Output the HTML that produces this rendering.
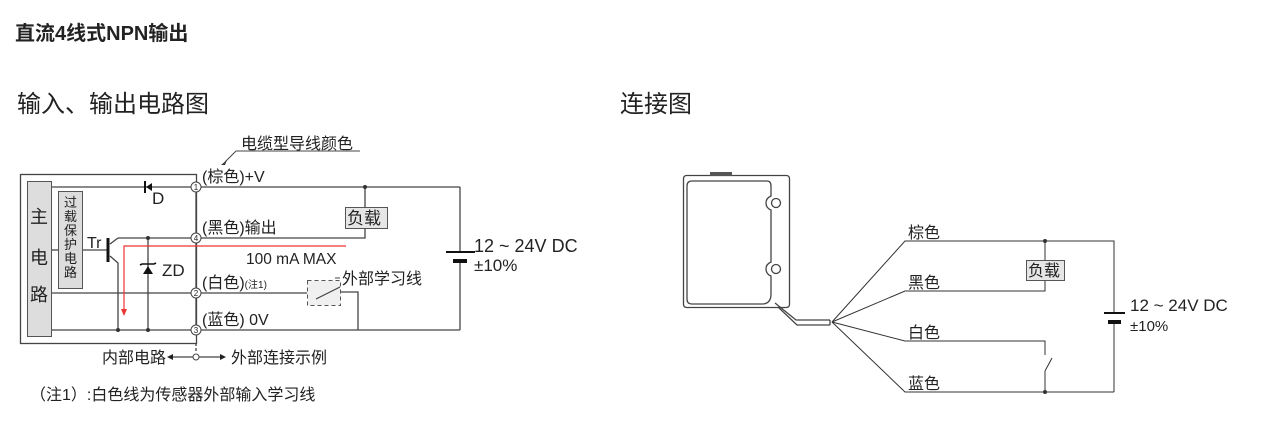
<!DOCTYPE html>
<html><head><meta charset="utf-8"><style>
html,body{margin:0;padding:0;background:#fff;width:1274px;height:440px;overflow:hidden}
svg text{font-family:"Liberation Sans","Noto Sans CJK SC",sans-serif;fill:#222}
</style></head><body>
<svg width="1274" height="440" viewBox="0 0 1274 440" xmlns="http://www.w3.org/2000/svg">
<text x="15" y="40" font-size="20" font-weight="bold" fill="#111">直流4线式NPN输出</text>
<text x="17" y="112" font-size="24">输入、输出电路图</text>
<text x="620" y="112" font-size="24">连接图</text>

<g stroke="#444" stroke-width="1.3" fill="none">
<rect x="20.5" y="174.5" width="176" height="169"/>
<line x1="51" y1="187" x2="191" y2="187"/>
<line x1="201" y1="187" x2="460" y2="187"/>
<line x1="365" y1="187" x2="365" y2="207"/>
<polyline points="365,228 365,238 201,238"/>
<line x1="118" y1="238" x2="191" y2="238"/>
<line x1="51" y1="293" x2="191" y2="293"/>
<line x1="201" y1="293" x2="307" y2="293"/>
<polyline points="340,292 358,292 358,330"/>
<line x1="51" y1="330" x2="191" y2="330"/>
<line x1="201" y1="330" x2="460" y2="330"/>
<line x1="460" y1="187" x2="460" y2="251"/>
<line x1="460" y1="262" x2="460" y2="330"/>
<line x1="196" y1="192" x2="196" y2="233"/>
<line x1="196" y1="243" x2="196" y2="288"/>
<line x1="196" y1="298" x2="196" y2="325"/>
<line x1="51" y1="250" x2="58" y2="250"/>
<line x1="82" y1="250" x2="108" y2="250"/>
<line x1="118" y1="238" x2="110" y2="244"/>
<polyline points="110,256 118,263 118,330"/>
<line x1="148" y1="238" x2="148" y2="330"/>
<line x1="196" y1="343" x2="196" y2="353" stroke-dasharray="3,2"/>
<line x1="172" y1="357" x2="193" y2="357"/>
<line x1="199" y1="357" x2="222" y2="357"/>
<line x1="236" y1="151" x2="360" y2="151" stroke-width="1"/>
<line x1="236" y1="151" x2="225" y2="162" stroke-width="1"/>
<line x1="340" y1="278" x2="335" y2="278" stroke-width="1"/>
</g>
<circle cx="196" cy="357" r="3" fill="#fff" stroke="#444"/>
<path d="M225,165 l-4,0 l6,-5 z" fill="#333"/>
<line x1="108" y1="238" x2="108" y2="262" stroke="#111" stroke-width="3"/>
<line x1="145" y1="181" x2="145" y2="193" stroke="#111" stroke-width="2"/>
<path d="M146,187 L152,183 L152,191 Z" fill="#111"/>
<path d="M143,274 L153,274 L148,266 Z" fill="#111"/>
<path d="M140,265 L142,264 L154,264 L156,263" stroke="#111" stroke-width="1.6" fill="none"/>
<rect x="27.5" y="181.5" width="24" height="155" fill="#ddd" stroke="#555"/>
<rect x="58.5" y="191.5" width="24" height="97" fill="#ddd" stroke="#555"/>
<rect x="345.5" y="207.5" width="42" height="21" fill="#e6e6e6" stroke="#555"/>
<rect x="307.5" y="280.5" width="33" height="25" fill="#f0f0f0" stroke="#555" stroke-dasharray="4,3"/>
<line x1="316" y1="299" x2="340" y2="287" stroke="#444" stroke-width="1.2"/>
<g stroke="#444" fill="#fff" stroke-width="1">
<circle cx="196" cy="187" r="5"/><circle cx="196" cy="238" r="5"/><circle cx="196" cy="293" r="5"/><circle cx="196" cy="330" r="5"/>
</g>
<g font-size="8" text-anchor="middle"><text x="196" y="190">1</text><text x="196" y="241">4</text><text x="196" y="296">2</text><text x="196" y="333">3</text></g>
<g fill="#333"><circle cx="365" cy="187" r="2"/><circle cx="148" cy="238" r="2"/><circle cx="118" cy="330" r="2"/><circle cx="148" cy="330" r="2"/></g>
<polyline points="124,311 124,246 346,246" stroke="#e33" stroke-width="1.2" fill="none"/>
<path d="M121,309 L127,309 L124,316 Z" fill="#e33"/>
<path d="M167,357 L173,354 L173,360 Z M226,357 L220,354 L220,360 Z" fill="#222"/>
<line x1="446" y1="252" x2="475" y2="252" stroke="#111" stroke-width="2"/>
<rect x="453" y="259" width="14" height="4" fill="#111"/>
<g font-size="18">
<text x="30" y="223">主</text><text x="30" y="264">电</text><text x="30" y="301">路</text>
</g>
<g font-size="13"><text x="64" y="207">过</text><text x="64" y="221">载</text><text x="64" y="235">保</text><text x="64" y="249">护</text><text x="64" y="263">电</text><text x="64" y="277">路</text></g>
<g font-size="16">
<text x="241" y="149">电缆型导线颜色</text>
<text x="202" y="182">(棕色)+V</text>
<text x="202" y="233">(黑色)输出</text>
<text x="202" y="288">(白色)<tspan font-size="10">(注1)</tspan></text>
<text x="202" y="325">(蓝色) 0V</text>
<text x="347" y="224" font-size="17">负载</text>
<text x="342" y="284">外部学习线</text>
<text x="87" y="248">Tr</text>
<text x="152" y="204" font-size="17">D</text>
<text x="162" y="276" font-size="17">ZD</text>
<text x="246" y="264" font-size="15.5">100 mA MAX</text>
<text x="474" y="252" font-size="18">12 ~ 24V DC</text>
<text x="474" y="271" font-size="17">±10%</text>
<text x="102" y="363">内部电路</text>
<text x="231" y="363">外部连接示例</text>
<text x="30" y="400" font-size="16" fill="#444">（注1）:白色线为传感器外部输入学习线</text>
</g>

<g stroke="#444" fill="none" stroke-width="1.3">
<rect x="683.5" y="175.5" width="106" height="132" rx="3"/>
<path d="M692,181 H767 Q771,181 771,186 V196 Q766,198 766,203 Q766,208 771,210 V262 Q766,264 766,269 Q766,274 771,276 V294 Q771,304 762,304 H692 Q687,304 687,299 V186 Q687,181 692,181 Z"/>
<path d="M775,303 L796,320 L830,320 M778,307 L797,325 L830,325"/>
<line x1="830" y1="320" x2="830" y2="325"/>
<circle cx="776" cy="203" r="4.5" fill="#fff"/><circle cx="776" cy="269" r="4.5" fill="#fff"/>
</g>
<rect x="710" y="172" width="22" height="4" fill="#555"/>
<g stroke="#333" stroke-width="1" fill="none">
<polyline points="832,322 905,241 1114,241 1114,312"/>
<line x1="1114" y1="322" x2="1114" y2="392"/>
<polyline points="832,322 905,291 1045,291 1045,281"/>
<line x1="1045" y1="241" x2="1045" y2="260"/>
<polyline points="832,322 905,341 1045,341 1045,355"/>
<line x1="1045" y1="371" x2="1052" y2="358"/>
<line x1="1045" y1="371" x2="1045" y2="392"/>
<polyline points="832,322 905,392 1114,392"/>
</g>
<g fill="#333"><circle cx="1045" cy="241" r="2"/><circle cx="1045" cy="392" r="2"/></g>
<rect x="1026.5" y="260.5" width="38" height="20" fill="#e6e6e6" stroke="#555"/>
<line x1="1104" y1="313" x2="1125" y2="313" stroke="#111" stroke-width="2"/>
<rect x="1108" y="320" width="13" height="4" fill="#111"/>
<g font-size="16">
<text x="908" y="238">棕色</text>
<text x="908" y="288">黑色</text>
<text x="908" y="338">白色</text>
<text x="908" y="389">蓝色</text>
<text x="1028" y="276">负载</text>
<text x="1130" y="311" font-size="17">12 ~ 24V DC</text>
<text x="1130" y="331" font-size="15">±10%</text>
</g>
</svg>
</body></html>
